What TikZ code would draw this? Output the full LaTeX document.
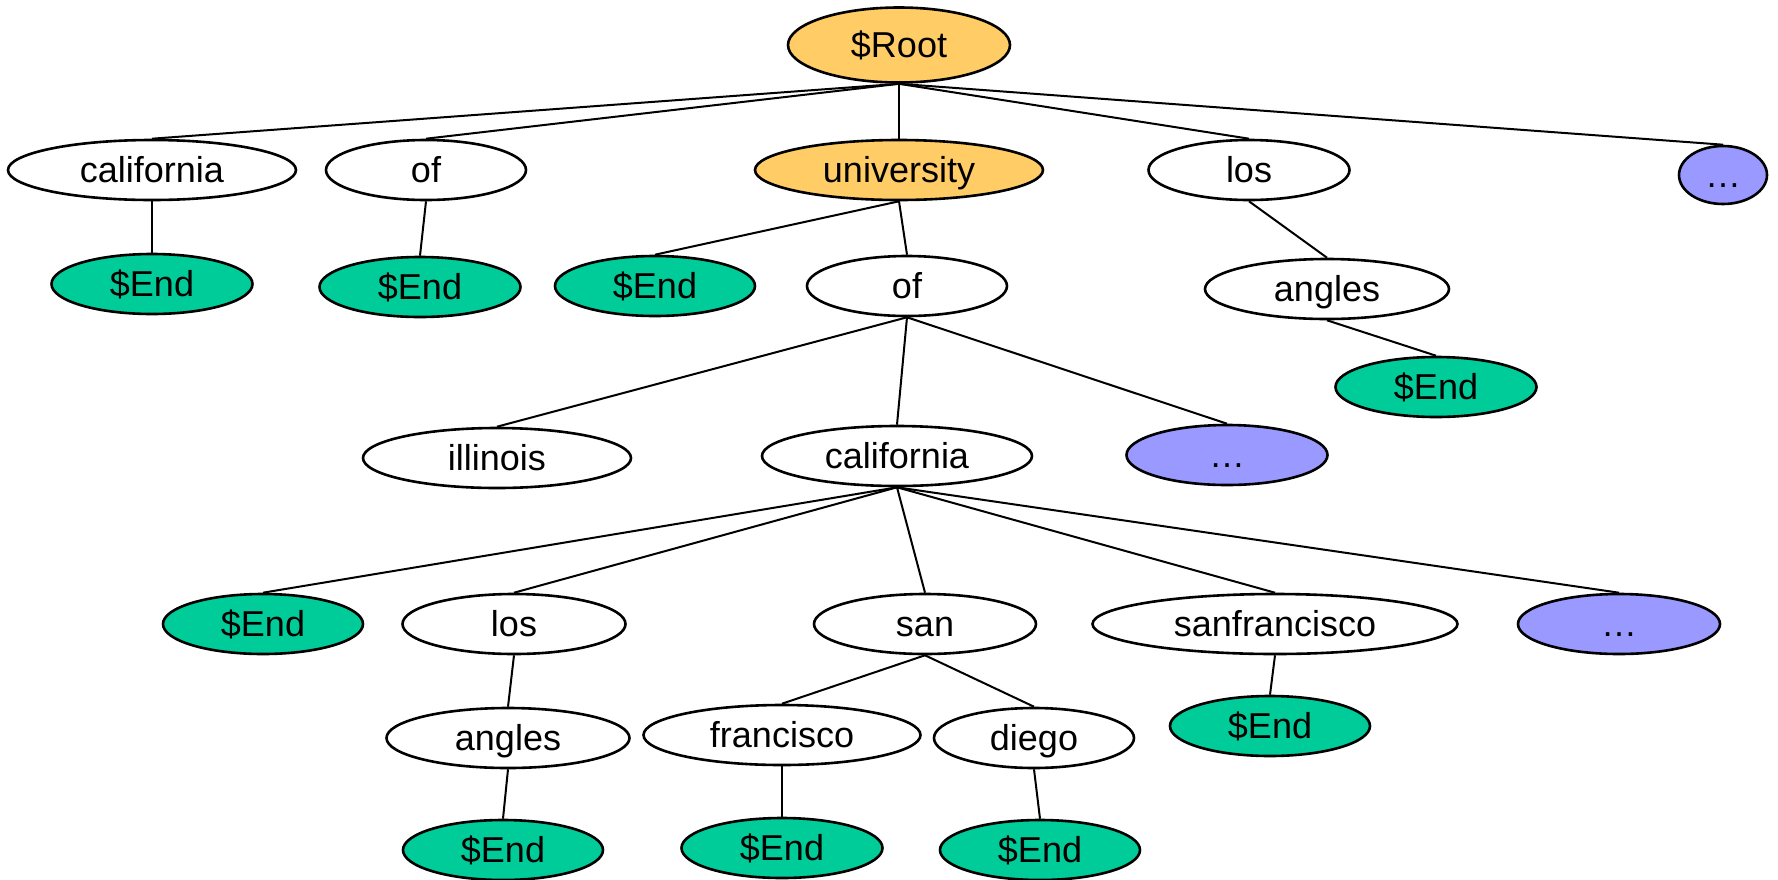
\documentclass[tikz,border=0pt]{standalone}
\usepackage{fontspec}
\setmainfont{Liberation Sans}
\usetikzlibrary{shapes.geometric}
\definecolor{rootc}{HTML}{FFCC66}
\definecolor{endc}{HTML}{00CC99}
\definecolor{morec}{HTML}{9999FF}
\begin{document}
\begin{tikzpicture}[x=0.5pt,y=-0.5pt,
  nd/.style={ellipse, draw=black, line width=1.3pt, fill=white, inner sep=0pt,
    minimum width=#1*0.5pt, minimum height=30pt,
    text height=13pt, text depth=1pt,
    font=\fontsize{18}{21}\selectfont},
  hl/.style={nd=#1, fill=rootc},
  en/.style={nd=#1, fill=endc},
  mo/.style={nd=#1, fill=morec},
  ln/.style={line width=1pt}]
\fill[white] (0,0) rectangle (1778,879);
\useasboundingbox (0,0) rectangle (1778,879);
% level 0
\node[hl=222, minimum height=37.5pt] (root) at (899,45) {\$Root};
% level 1
\node[nd=288] (cal1) at (152,170) {california};
\node[nd=200] (of1) at (426,170) {of};
\node[hl=288] (uni) at (899,170) {university};
\node[nd=201] (los1) at (1249,170) {los};
\node[mo=88, minimum height=29pt] (dots1) at (1723,175) {\dots};
% level 2
\node[en=201] (end1) at (152,284) {\$End};
\node[en=201] (end2) at (420,287) {\$End};
\node[en=200] (end3) at (655,286) {\$End};
\node[nd=200] (of2) at (907,286) {of};
\node[nd=244] (ang1) at (1327,289) {angles};
\node[en=201] (end4) at (1436,387) {\$End};
% level 3
\node[nd=268] (ill) at (497,458) {illinois};
\node[nd=270] (cal3) at (897,456) {california};
\node[mo=201] (dots3) at (1227,455) {\dots};
% level 4
\node[en=200] (end5) at (263,624) {\$End};
\node[nd=223] (los4) at (514,624) {los};
\node[nd=222] (san) at (925,624) {san};
\node[nd=365] (sf) at (1275,624) {sanfrancisco};
\node[mo=202] (dots4) at (1619,624) {\dots};
% level 5
\node[nd=243] (ang5) at (508,738) {angles};
\node[nd=277] (fra) at (782,735) {francisco};
\node[nd=200] (die) at (1034,738) {diego};
\node[en=200] (end6) at (1270,726) {\$End};
% level 6
\node[en=200] (end7) at (503,850) {\$End};
\node[en=201] (end8) at (782,848) {\$End};
\node[en=200] (end9) at (1040,850) {\$End};
% connectors
\draw[ln] (root.south) -- (cal1.north);
\draw[ln] (root.south) -- (of1.north);
\draw[ln] (root.south) -- (uni.north);
\draw[ln] (root.south) -- (los1.north);
\draw[ln] (root.south) -- (dots1.north);
\draw[ln] (cal1.south) -- (end1.north);
\draw[ln] (of1.south) -- (end2.north);
\draw[ln] (uni.south) -- (end3.north);
\draw[ln] (uni.south) -- (of2.north);
\draw[ln] (los1.south) -- (ang1.north);
\draw[ln] (ang1.south) -- (end4.north);
\draw[ln] (of2.south) -- (ill.north);
\draw[ln] (of2.south) -- (cal3.north);
\draw[ln] (of2.south) -- (dots3.north);
\draw[ln] (cal3.south) -- (end5.north);
\draw[ln] (cal3.south) -- (los4.north);
\draw[ln] (cal3.south) -- (san.north);
\draw[ln] (cal3.south) -- (sf.north);
\draw[ln] (cal3.south) -- (dots4.north);
\draw[ln] (los4.south) -- (ang5.north);
\draw[ln] (san.south) -- (fra.north);
\draw[ln] (san.south) -- (die.north);
\draw[ln] (sf.south) -- (end6.north);
\draw[ln] (ang5.south) -- (end7.north);
\draw[ln] (fra.south) -- (end8.north);
\draw[ln] (die.south) -- (end9.north);
\end{tikzpicture}
\end{document}
